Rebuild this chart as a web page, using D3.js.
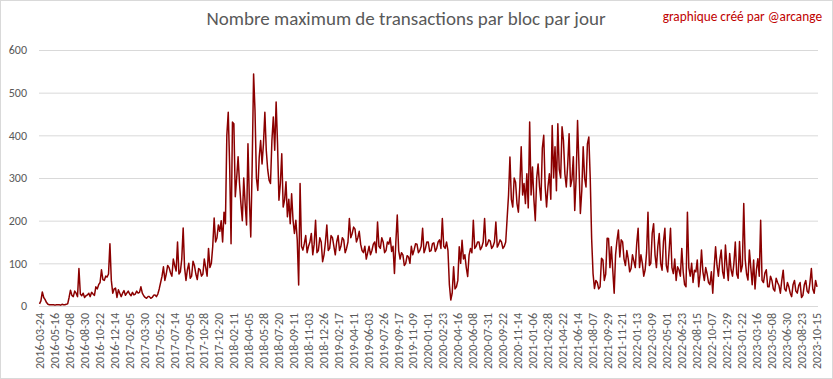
<!DOCTYPE html>
<html>
<head>
<meta charset="UTF-8">
<title>Nombre maximum de transactions par bloc par jour</title>
<script src="https://d3js.org/d3.v7.min.js"></script>
<style>
    body { margin: 0; background: #fff; }
    svg { display: block; }
    text { font-family: Carlito, "Liberation Sans Narrow", "Open Sans", sans-serif; }
</style>
</head>
<body>
<svg id="chart" width="833" height="379"></svg>
<script>
// x labels: one every 53 rows (days) of the source sheet
const xLabels = [
    '2016-03-24','2016-05-16','2016-07-08','2016-08-30','2016-10-22','2016-12-14',
    '2017-02-05','2017-03-30','2017-05-22','2017-07-14','2017-09-05','2017-10-28','2017-12-20',
    '2018-02-11','2018-04-05','2018-05-28','2018-07-20','2018-09-11','2018-11-03','2018-12-26',
    '2019-02-17','2019-04-11','2019-06-03','2019-07-26','2019-09-17','2019-11-09',
    '2020-01-01','2020-02-23','2020-04-16','2020-06-08','2020-07-31','2020-09-22','2020-11-14',
    '2021-01-06','2021-02-28','2021-04-22','2021-06-14','2021-08-07','2021-09-29','2021-11-21',
    '2022-01-13','2022-03-09','2022-05-01','2022-06-23','2022-08-15','2022-10-07','2022-11-29',
    '2023-01-22','2023-03-16','2023-05-08','2023-06-30','2023-08-23','2023-10-15'
]
const labelEvery = 53

const yTicks = [0, 100, 200, 300, 400, 500, 600]

// max transactions per block, one reading every 5 days
const sampleEvery = 5
const maxTx = [
    // 2016
    5, 12, 33, 20, 15, 8, 4, 3, 3, 3, 3, 2, 3, 3, 3, 2, 4, 3, 3, 4,
    5, 20, 37, 25, 22, 35, 30, 22, 88, 28, 24, 30, 20, 24, 26, 30, 22, 32, 28, 25,
    45, 40, 50, 55, 85, 62, 60, 70, 68, 75, 146, 60, 30, 40, 42, 20, 38, 30, 22, 30,
    // 2017
    36, 25, 30, 35, 28, 24, 32, 26, 28, 35, 30, 32, 45, 30, 24, 20, 18, 22, 22, 18,
    20, 25, 26, 22, 28, 40, 55, 70, 92, 60, 75, 95, 90, 78, 70, 110, 95, 82, 150, 75,
    80, 110, 183, 90, 60, 85, 100, 65, 70, 105, 95, 75, 62, 88, 85, 70, 75, 110, 90, 70,
    // 2018
    135, 90, 100, 140, 206, 150, 160, 190, 175, 200, 150, 220, 193, 400, 454, 330, 146, 431, 427, 256,
    300, 350, 287, 240, 200, 300, 240, 190, 380, 250, 162, 330, 544, 458, 300, 271, 349, 388, 333, 380,
    454, 365, 320, 295, 287, 388, 443, 365, 478, 380, 248, 287, 357, 232, 248, 291, 209, 250, 193, 263,
    201, 170, 201, 154, 49, 287, 140, 131, 146, 165, 125, 140, 150, 170, 120, 145, 201, 125, 130, 160,
    // 2019
    150, 104, 120, 150, 190, 130, 135, 165, 160, 140, 120, 150, 165, 130, 140, 160, 155, 125, 135, 150,
    205, 160, 170, 185, 180, 150, 160, 175, 145, 130, 125, 140, 110, 125, 140, 120, 130, 145, 150, 125,
    197, 140, 135, 160, 150, 125, 130, 150, 145, 160, 128, 140, 76, 150, 213, 130, 110, 125, 120, 95,
    100, 118, 115, 100, 140, 120, 132, 146, 145, 125, 130, 140, 182, 125, 135, 150, 150, 128, 130, 146,
    // 2020
    148, 128, 135, 150, 155, 135, 205, 140, 135, 150, 130, 50, 14, 30, 92, 40, 45, 60, 139, 100,
    154, 110, 120, 90, 69, 120, 135, 125, 201, 135, 140, 150, 150, 132, 138, 150, 205, 140, 145, 155,
    152, 135, 140, 150, 197, 138, 145, 155, 150, 135, 140, 150, 205, 260, 349, 250, 232, 300, 290, 240,
    // 2021
    220, 280, 373, 260, 287, 240, 310, 230, 431, 260, 326, 250, 200, 300, 333, 280, 248, 370, 400, 280,
    232, 280, 310, 250, 423, 300, 373, 270, 427, 320, 300, 420, 388, 310, 279, 330, 404, 280, 296, 350,
    224, 300, 435, 330, 217, 270, 373, 300, 279, 380, 396, 300, 158, 76, 41, 60, 55, 40, 45, 112,
    108, 60, 75, 159, 158, 90, 139, 84, 30, 120, 154, 178, 115, 155, 150, 110, 95, 130, 110, 80,
    // 2022
    88, 120, 105, 90, 146, 182, 90, 120, 100, 70, 85, 125, 220, 95, 100, 170, 193, 120, 90, 140,
    170, 100, 84, 151, 182, 95, 80, 130, 182, 90, 76, 110, 60, 92, 85, 70, 135, 80, 50, 45,
    220, 90, 70, 100, 55, 84, 80, 108, 45, 75, 131, 80, 60, 90, 75, 55, 50, 80, 30, 90,
    // 2023
    139, 95, 70, 108, 131, 80, 65, 143, 95, 60, 123, 85, 70, 100, 150, 75, 65, 151, 80, 95,
    240, 110, 75, 61, 131, 90, 50, 108, 40, 85, 111, 70, 201, 60, 55, 77, 85, 45, 45, 70,
    60, 40, 35, 65, 55, 48, 30, 60, 84, 40, 35, 55, 45, 30, 22, 50, 60, 35, 30, 48,
    55, 20, 25, 50, 60, 35, 30, 55, 88, 40, 30, 60, 45
]

const svg = d3.select('#chart')
const width = +svg.attr('width')
const height = +svg.attr('height')
const margin = { top: 50, right: 15, bottom: 73, left: 39 }
const innerWidth = width - margin.left - margin.right
const innerHeight = height - margin.top - margin.bottom

const data = maxTx.map((v, i) => ({ row: i * sampleEvery, value: v }))
const lastRow = d3.max(data, d => d.row)

const xScale = d3.scaleLinear()
    .domain([0, lastRow])
    .range([0.5, innerWidth - 1])

const yScale = d3.scaleLinear()
    .domain([0, 600])
    .range([innerHeight, 0])

// chart area border
svg.append('rect')
    .attr('x', 0.5).attr('y', 0.5)
    .attr('width', width - 1).attr('height', height - 1)
    .style('fill', '#fff')
    .style('stroke', '#d9d9d9')

const g = svg.append('g')
    .attr('transform', `translate(${margin.left},${margin.top})`)

// horizontal gridlines + y labels
const yAxis = d3.axisLeft(yScale)
    .tickValues(yTicks)
    .tickSize(-innerWidth)
    .tickPadding(12)
g.append('g')
    .attr('class', 'y-axis')
    .call(yAxis)
    .call(a => a.select('.domain').remove())
    .call(a => a.selectAll('line').style('stroke', '#d9d9d9'))
    .call(a => a.selectAll('text')
        .style('font-size', '12px')
        .style('fill', '#595959'))

// x labels, rotated
const xAxis = d3.axisBottom(xScale)
    .tickValues(xLabels.map((d, i) => i * labelEvery))
    .tickFormat((d, i) => xLabels[i])
    .tickSize(0)
g.append('g')
    .attr('transform', `translate(0,${innerHeight})`)
    .call(xAxis)
    .call(a => a.select('.domain').style('stroke', '#d9d9d9'))
    .call(a => a.selectAll('text')
        .attr('transform', 'rotate(-90)')
        .attr('x', -7)
        .attr('y', 0)
        .attr('dy', '0.35em')
        .style('text-anchor', 'end')
        .style('font-size', '12px')
        .style('fill', '#595959'))

// the series
const line = d3.line()
    .x(d => xScale(d.row))
    .y(d => yScale(d.value))

g.append('path')
    .datum(data)
    .attr('d', line)
    .style('fill', 'none')
    .style('stroke', '#8b0000')
    .style('stroke-width', 1.5)
    .style('stroke-linejoin', 'round')

// title
svg.append('text')
    .attr('x', 406)
    .attr('y', 25)
    .attr('text-anchor', 'middle')
    .style('font-size', '19px')
    .style('fill', '#595959')
    .text('Nombre maximum de transactions par bloc par jour')

svg.append('text')
    .attr('x', 822)
    .attr('y', 21)
    .attr('text-anchor', 'end')
    .style('font-size', '13.3px')
    .style('fill', '#c00000')
    .text('graphique créé par @arcange')
</script>
</body>
</html>
